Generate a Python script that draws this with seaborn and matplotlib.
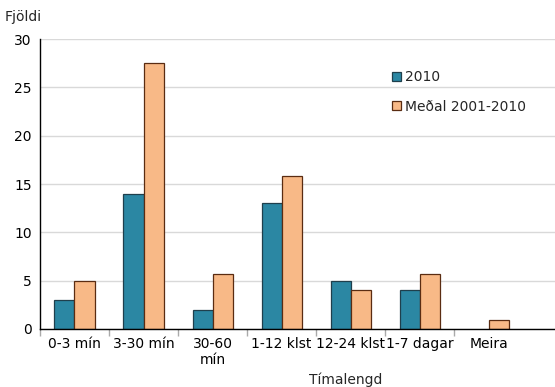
import matplotlib
matplotlib.use('Agg')
import matplotlib.pyplot as plt
import numpy as np
import pandas as pd
import seaborn as sns

categories = ['0-3 mín', '3-30 mín', '30-60\nmín', '1-12 klst', '12-24 klst', '1-7 dagar', 'Meira']
series_names = ['2010', 'Meðal 2001-2010']
vals_2010 = [3, 14, 2, 13, 5, 4, 0]
vals_mean = [5, 27.5, 5.7, 15.8, 4, 5.7, 0.9]

df = pd.DataFrame({
    'cat': categories * 2,
    'series': [series_names[0]] * len(categories) + [series_names[1]] * len(categories),
    'val': vals_2010 + vals_mean,
})

sns.set_theme(style='white')
plt.rcParams['font.family'] = ['DejaVu Sans']

fig = plt.figure(figsize=(5.55, 3.87), dpi=100)
ax = fig.add_axes([0.072, 0.150, 0.928, 0.749])

palette = {'2010': '#2b87a3', 'Meðal 2001-2010': '#f8b987'}
sns.barplot(data=df, x='cat', y='val', hue='series', palette=palette,
            width=0.58, saturation=1, ax=ax, order=categories, hue_order=series_names)
for i, p in enumerate(ax.patches[:14]):
    p.set_edgecolor('#1f3f4c' if i < 7 else '#5a2c12')
    p.set_linewidth(0.9 if p.get_height() > 0 else 0)

ax.set_ylim(0, 30)
ax.set_xlim(-0.5, 6.96)
ax.set_yticks([0, 5, 10, 15, 20, 25, 30])
ax.yaxis.grid(True, color='#d9d9d9', linewidth=1)
ax.set_axisbelow(True)
ax.tick_params(axis='both', labelsize=10, colors='black', length=0, pad=6)
ax.set_xticks(np.arange(-0.5, 6, 1), minor=True)
ax.tick_params(axis='x', which='minor', bottom=True, length=5, width=1,
               color='#aaaaaa', direction='out')
ax.set_xlabel('')
ax.set_ylabel('')
for s in ['top', 'right']:
    ax.spines[s].set_visible(False)
for s in ['left', 'bottom']:
    ax.spines[s].set_color('black')
    ax.spines[s].set_linewidth(1)

leg = ax.legend(loc='upper left', bbox_to_anchor=(0.66, 0.935), frameon=False,
                fontsize=10, handlelength=0.6, handleheight=0.6, handletextpad=0.3,
                labelspacing=1.1)
for h, ec in zip(leg.legend_handles, ['#1f3f4c', '#5a2c12']):
    h.set_edgecolor(ec)
    h.set_linewidth(0.9)

fig.text(0.009, 0.955, 'Fjöldi', fontsize=10, ha='left', va='center')
fig.text(0.622, 0.018, 'Tímalengd', fontsize=10, ha='center', va='center')

fig.savefig('out.png', dpi=100)
